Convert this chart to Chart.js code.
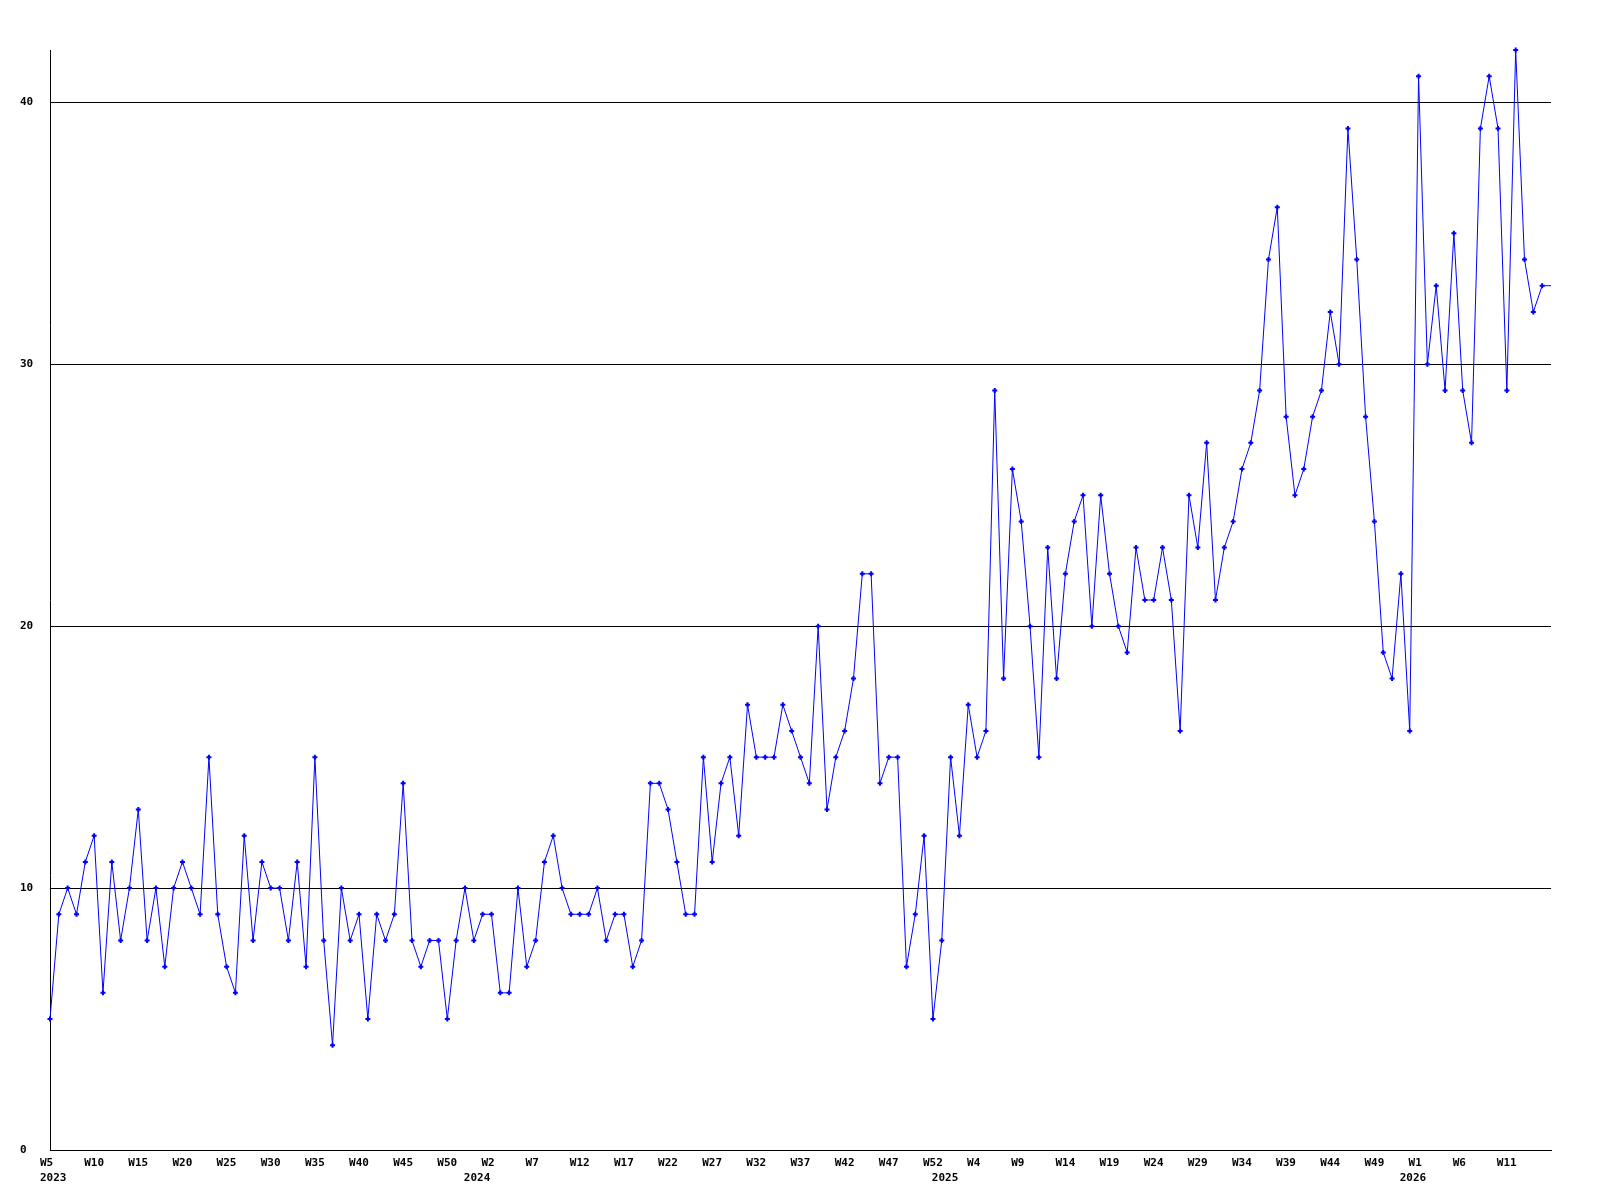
<!DOCTYPE html>
<html>
<head>
<meta charset="utf-8">
<script src="https://cdn.jsdelivr.net/npm/chart.js@4.4.1/dist/chart.umd.min.js"></script>
<style>
  html, body { margin: 0; padding: 0; background: #fff; }
</style>
</head>
<body>
<canvas id="weekChart" width="1600" height="1200"></canvas>
<script>
// Weeklabels per jaar (W0 = week met 1 januari)
function weekRange(first, last) {
  const out = [];
  for (let w = first; w <= last; w++) out.push("W" + w);
  return out;
}
const weeks2023 = weekRange(5, 52);
const weeks2024 = weekRange(0, 52);
const weeks2025 = weekRange(0, 52);
const weeks2026 = weekRange(0, 16);
const yearNames = ["2023", "2024", "2025", "2026"];

// Waarden per week
const counts2023 = [5, 9, 10, 9, 11, 12, 6, 11, 8, 10, 13, 8, 10, 7, 10, 11, 10, 9, 15, 9, 7, 6, 12, 8, 11,
  10, 10, 8, 11, 7, 15, 8, 4, 10, 8, 9, 5, 9, 8, 9, 14, 8, 7, 8, 8, 5, 8, 10];
const counts2024 = [8, 9, 9, 6, 6, 10, 7, 8, 11, 12, 10, 9, 9, 9, 10, 8, 9, 9, 7, 8, 14, 14, 13, 11, 9, 9, 15,
  11, 14, 15, 12, 17, 15, 15, 15, 17, 16, 15, 14, 20, 13, 15, 16, 18, 22, 22, 14, 15, 15, 7, 9, 12, 5];
const counts2025 = [8, 15, 12, 17, 15, 16, 29, 18, 26, 24, 20, 15, 23, 18, 22, 24, 25, 20, 25, 22, 20, 19, 23,
  21, 21, 23, 21, 16, 25, 23, 27, 21, 23, 24, 26, 27, 29, 34, 36, 28, 25, 26, 28, 29, 32, 30,
  39, 34, 28, 24, 19, 18, 22];
const counts2026 = [16, 41, 30, 33, 29, 35, 29, 27, 39, 41, 39, 29, 42, 34, 32, 33, 33];

const labels = [...weeks2023, ...weeks2024, ...weeks2025, ...weeks2026];
const values = [...counts2023, ...counts2024, ...counts2025, ...counts2026];

// Index waar elk jaar begint
const yearStart = {};
let start = 0;
[weeks2023, weeks2024, weeks2025, weeks2026].forEach((w, i) => {
  yearStart[start] = yearNames[i];
  start += w.length;
});

const tickFont = { family: "DejaVu Sans Mono", size: 11, weight: "bold", lineHeight: "15px" };

const ctx = document.getElementById("weekChart").getContext("2d");
new Chart(ctx, {
  type: "line",
  data: {
    labels: labels,
    datasets: [
      {
        data: values,
        borderColor: "#0000ff",
        backgroundColor: "#0000ff",
        borderWidth: 1,
        tension: 0,
        clip: false,
        pointStyle: "cross",
        pointRadius: (c) => (c.dataIndex === values.length - 1 ? 0 : 2.5),
        pointBorderWidth: 2,
        pointHoverRadius: 0,
      },
    ],
  },
  options: {
    responsive: false,
    animation: false,
    devicePixelRatio: 1,
    layout: { padding: { left: 20, top: 50, right: 49, bottom: 0 } },
    plugins: { legend: { display: false }, tooltip: { enabled: false } },
    scales: {
      x: {
        type: "category",
        offset: false,
        grid: { display: false, drawTicks: false },
        border: { display: true, color: "#000", width: 1 },
        ticks: {
          autoSkip: false,
          maxRotation: 0,
          minRotation: 0,
          align: "start",
          labelOffset: -10,
          padding: 6,
          color: "#000",
          font: tickFont,
          callback: function (value, index) {
            const week = index % 5 === 0 && index < labels.length - 1 ? labels[index] : "";
            const year = yearStart[index] || "";
            if (!week && !year) return "";
            return year ? [week, year] : week;
          },
        },
        afterFit: (scale) => { scale.height = 50; },
      },
      y: {
        min: 0,
        max: 42,
        grid: { color: "#000", lineWidth: 1, drawTicks: false },
        border: { display: true, color: "#000", width: 1 },
        ticks: {
          stepSize: 10,
          includeBounds: false,
          crossAlign: "far",
          padding: 0,
          color: "#000",
          font: tickFont,
        },
        afterFit: (scale) => { scale.width = 30; },
      },
    },
  },
});
</script>
</body>
</html>
